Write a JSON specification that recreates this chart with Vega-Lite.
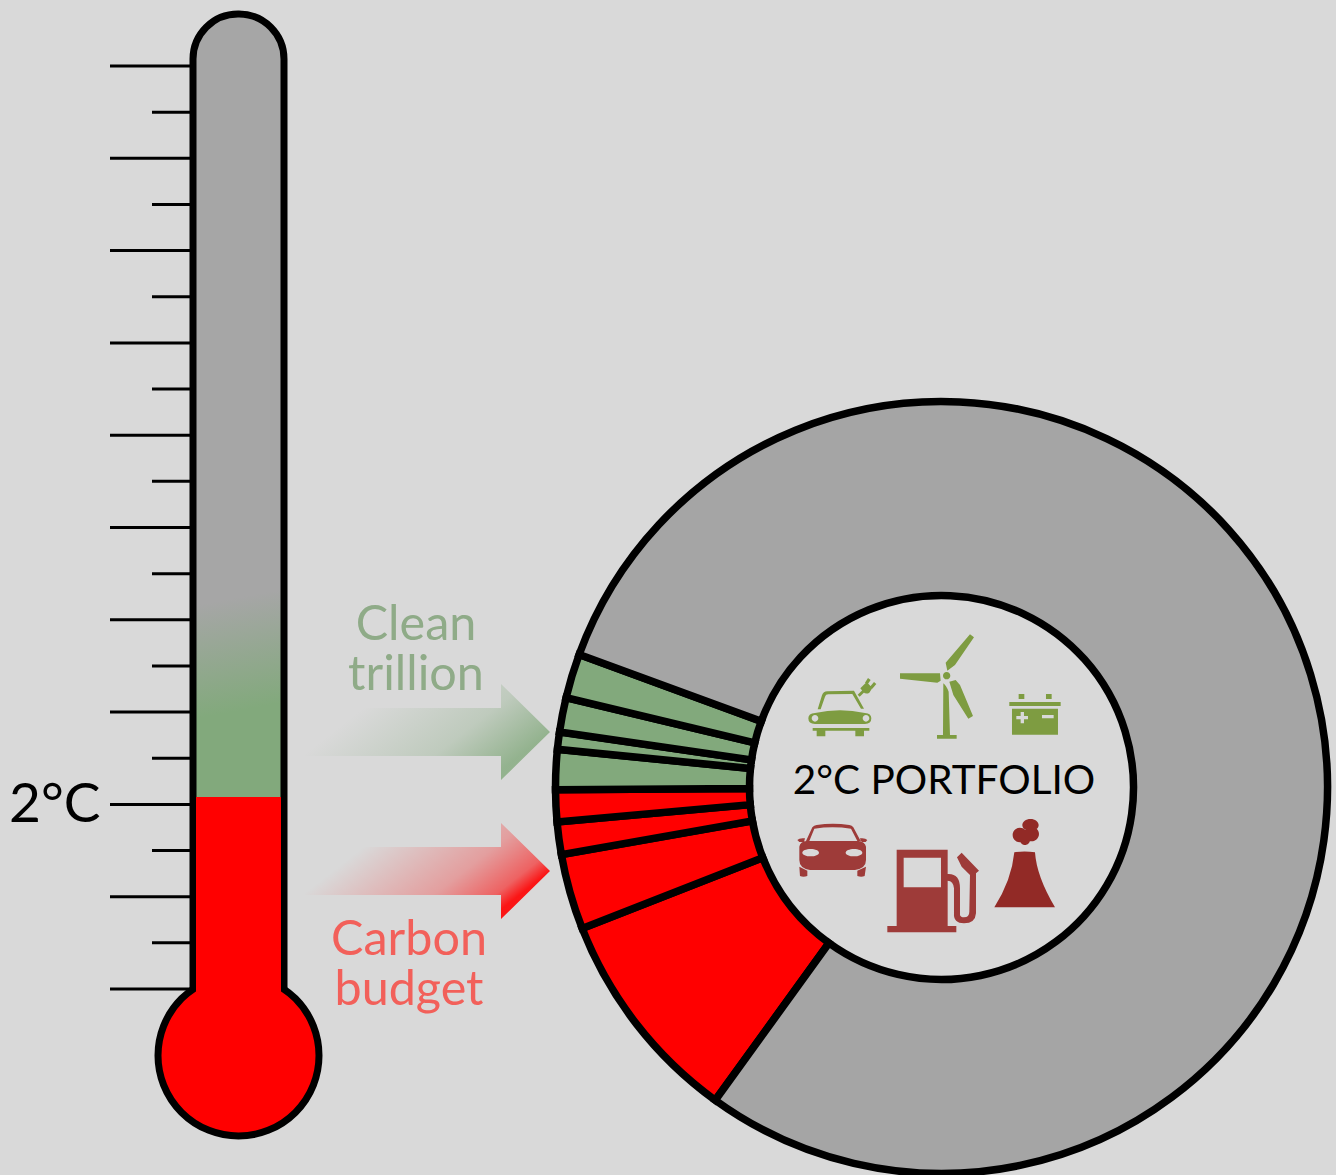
{
  "$schema": "https://vega.github.io/schema/vega-lite/v6.json",
  "width": 1336,
  "height": 1175,
  "padding": 0,
  "autosize": {"type": "none"},
  "background": "#d9d9d9",
  "config": {"view": {"stroke": null}, "axis": {"disable": true}},
  "datasets": {
    "ticks": [
      {"temp": 0, "kind": "major"}, {"temp": 0.5, "kind": "minor"}, {"temp": 1, "kind": "major"}, {"temp": 1.5, "kind": "minor"},
      {"temp": 2, "kind": "major"}, {"temp": 2.5, "kind": "minor"}, {"temp": 3, "kind": "major"}, {"temp": 3.5, "kind": "minor"},
      {"temp": 4, "kind": "major"}, {"temp": 4.5, "kind": "minor"}, {"temp": 5, "kind": "major"}, {"temp": 5.5, "kind": "minor"},
      {"temp": 6, "kind": "major"}, {"temp": 6.5, "kind": "minor"}, {"temp": 7, "kind": "major"}, {"temp": 7.5, "kind": "minor"},
      {"temp": 8, "kind": "major"}, {"temp": 8.5, "kind": "minor"}, {"temp": 9, "kind": "major"}, {"temp": 9.5, "kind": "minor"},
      {"temp": 10, "kind": "major"}
    ],
    "portfolio": [
      {"slice": "fossil 1", "sector": "carbon", "rank": 1, "share": 9.08},
      {"slice": "fossil 2", "sector": "carbon", "rank": 2, "share": 3.17},
      {"slice": "fossil 3", "sector": "carbon", "rank": 3, "share": 1.36},
      {"slice": "fossil 4", "sector": "carbon", "rank": 4, "share": 1.33},
      {"slice": "clean 1", "sector": "clean", "rank": 5, "share": 1.67},
      {"slice": "clean 2", "sector": "clean", "rank": 6, "share": 0.72},
      {"slice": "clean 3", "sector": "clean", "rank": 7, "share": 1.44},
      {"slice": "clean 4", "sector": "clean", "rank": 8, "share": 1.86},
      {"slice": "other", "sector": "other", "rank": 9, "share": 79.37}
    ],
    "cleanIcons": [{"icon": "electric car"}, {"icon": "wind turbine"}, {"icon": "battery"}],
    "fossilIcons": [{"icon": "car"}, {"icon": "fuel pump"}, {"icon": "power plant"}]
  },
  "resolve": {"scale": {"y": "independent", "shape": "independent", "color": "independent"}},
  "layer": [
    {
      "data": {"name": "ticks"},
      "transform": [{"filter": "datum.kind === 'major'"}],
      "mark": {"type": "rule", "stroke": "#000000", "strokeWidth": 3},
      "encoding": {
        "y": {"field": "temp", "type": "quantitative", "scale": {"domain": [-2.015, 10.715], "nice": false, "zero": false}},
        "x": {"datum": 110, "type": "quantitative", "scale": {"domain": [0, 1336], "nice": false, "zero": false}},
        "x2": {"datum": 190}
      }
    },
    {
      "data": {"name": "ticks"},
      "transform": [{"filter": "datum.kind === 'minor'"}],
      "mark": {"type": "rule", "stroke": "#000000", "strokeWidth": 3},
      "encoding": {
        "y": {"field": "temp", "type": "quantitative", "scale": {"domain": [-2.015, 10.715], "nice": false, "zero": false}},
        "x": {"datum": 152, "type": "quantitative", "scale": {"domain": [0, 1336], "nice": false, "zero": false}},
        "x2": {"datum": 190}
      }
    },
    {
      "data": {"values": [{"part": "tube"}]},
      "mark": {
        "type": "rect",
        "stroke": "#000000",
        "strokeWidth": 7,
        "cornerRadiusTopLeft": 45,
        "cornerRadiusTopRight": 45,
        "fill": {
          "x1": 0, "y1": 0, "x2": 0.017, "y2": 1,
          "gradient": "linear",
          "stops": [
            {"offset": 0, "color": "#a6a6a6"},
            {"offset": 0.6, "color": "#a6a6a6"},
            {"offset": 0.715, "color": "#82a97c"},
            {"offset": 1, "color": "#82a97c"}
          ]
        }
      },
      "encoding": {
        "x": {"datum": 193, "type": "quantitative", "scale": {"domain": [0, 1336], "nice": false, "zero": false}},
        "x2": {"datum": 284},
        "y": {"datum": 14, "type": "quantitative", "scale": {"domain": [1175, 0], "nice": false, "zero": false}},
        "y2": {"datum": 1000}
      }
    },
    {
      "data": {"values": [{"part": "bulb"}]},
      "mark": {"type": "point", "shape": "circle", "filled": true, "fill": "#ff0000", "stroke": "#000000", "strokeWidth": 7, "opacity": 1, "size": 25921},
      "encoding": {
        "x": {"datum": 238.5, "type": "quantitative", "scale": {"domain": [0, 1336], "nice": false, "zero": false}},
        "y": {"datum": 1055.5, "type": "quantitative", "scale": {"domain": [1175, 0], "nice": false, "zero": false}}
      }
    },
    {
      "data": {"values": [{"part": "mercury"}]},
      "mark": {"type": "rect", "fill": "#ff0000"},
      "encoding": {
        "x": {"datum": 196, "type": "quantitative", "scale": {"domain": [0, 1336], "nice": false, "zero": false}},
        "x2": {"datum": 281},
        "y": {"datum": 797, "type": "quantitative", "scale": {"domain": [1175, 0], "nice": false, "zero": false}},
        "y2": {"datum": 1012}
      }
    },
    {
      "data": {"name": "portfolio"},
      "mark": {"type": "arc", "outerRadius": 386, "innerRadius": 192, "stroke": "#000000", "strokeWidth": 7.5, "strokeJoin": "miter"},
      "encoding": {
        "theta": {"field": "share", "type": "quantitative", "stack": true, "scale": {"domain": [0, 100], "range": [3.768, 10.051]}},
        "order": {"field": "rank", "type": "quantitative"},
        "detail": {"field": "slice"},
        "color": {"field": "sector", "type": "nominal", "legend": null, "scale": {"domain": ["carbon", "clean", "other"], "range": ["#ff0000", "#82a97c", "#a5a5a5"]}},
        "x": {"datum": 941.5, "type": "quantitative", "scale": {"domain": [0, 1336], "nice": false, "zero": false}},
        "y": {"datum": 787.5, "type": "quantitative", "scale": {"domain": [1175, 0], "nice": false, "zero": false}}
      }
    },
    {
      "data": {"values": [{"arrow": "clean trillion"}]},
      "mark": {
        "type": "point", "filled": true, "opacity": 1, "size": 4, "strokeWidth": 0,
        "shape": "M-122.5,-24 L73.5,-24 L73.5,-48 L122.5,0 L73.5,48 L73.5,24 L-122.5,24 Z",
        "fill": {
          "x1": 0, "y1": 0, "x2": 1, "y2": 0.5,
          "gradient": "linear",
          "stops": [
            {"offset": 0.29, "color": "rgba(130,169,124,0)"},
            {"offset": 0.72, "color": "rgba(130,169,124,0.3)"},
            {"offset": 1, "color": "rgba(130,169,124,0.8)"}
          ]
        }
      },
      "encoding": {
        "x": {"datum": 427.5, "type": "quantitative", "scale": {"domain": [0, 1336], "nice": false, "zero": false}},
        "y": {"datum": 732, "type": "quantitative", "scale": {"domain": [1175, 0], "nice": false, "zero": false}}
      }
    },
    {
      "data": {"values": [{"arrow": "carbon budget"}]},
      "mark": {
        "type": "point", "filled": true, "opacity": 1, "size": 4, "strokeWidth": 0,
        "shape": "M-122.5,-24 L73.5,-24 L73.5,-48 L122.5,0 L73.5,48 L73.5,24 L-122.5,24 Z",
        "fill": {
          "x1": 0, "y1": 0, "x2": 1, "y2": 0.5,
          "gradient": "linear",
          "stops": [
            {"offset": 0.29, "color": "rgba(255,0,0,0)"},
            {"offset": 0.72, "color": "rgba(255,0,0,0.27)"},
            {"offset": 0.92, "color": "rgba(255,0,0,0.55)"},
            {"offset": 1, "color": "rgba(255,0,0,0.9)"}
          ]
        }
      },
      "encoding": {
        "x": {"datum": 427.5, "type": "quantitative", "scale": {"domain": [0, 1336], "nice": false, "zero": false}},
        "y": {"datum": 871, "type": "quantitative", "scale": {"domain": [1175, 0], "nice": false, "zero": false}}
      }
    },
    {
      "data": {"values": [{"label": "2°C"}]},
      "mark": {"type": "text", "font": "Lato", "fontSize": 55, "align": "left", "baseline": "alphabetic", "fill": "#000000"},
      "encoding": {
        "text": {"field": "label"},
        "x": {"datum": 9, "type": "quantitative", "scale": {"domain": [0, 1336], "nice": false, "zero": false}},
        "y": {"datum": 822, "type": "quantitative", "scale": {"domain": [1175, 0], "nice": false, "zero": false}}
      }
    },
    {
      "data": {"values": [{"label": "2°C PORTFOLIO"}]},
      "mark": {"type": "text", "font": "Lato", "fontSize": 40.5, "align": "center", "baseline": "alphabetic", "fill": "#000000"},
      "encoding": {
        "text": {"field": "label"},
        "x": {"datum": 944, "type": "quantitative", "scale": {"domain": [0, 1336], "nice": false, "zero": false}},
        "y": {"datum": 794, "type": "quantitative", "scale": {"domain": [1175, 0], "nice": false, "zero": false}}
      }
    },
    {
      "data": {"values": [{"label": "Clean\ntrillion"}]},
      "mark": {"type": "text", "font": "Lato", "fontSize": 48.5, "lineBreak": "\n", "lineHeight": 50, "align": "center", "baseline": "alphabetic", "fill": "#8fab88"},
      "encoding": {
        "text": {"field": "label"},
        "x": {"datum": 416, "type": "quantitative", "scale": {"domain": [0, 1336], "nice": false, "zero": false}},
        "y": {"datum": 640, "type": "quantitative", "scale": {"domain": [1175, 0], "nice": false, "zero": false}}
      }
    },
    {
      "data": {"values": [{"label": "Carbon\nbudget"}]},
      "mark": {"type": "text", "font": "Lato", "fontSize": 48.5, "lineBreak": "\n", "lineHeight": 50, "align": "center", "baseline": "alphabetic", "fill": "#f2605a"},
      "encoding": {
        "text": {"field": "label"},
        "x": {"datum": 409, "type": "quantitative", "scale": {"domain": [0, 1336], "nice": false, "zero": false}},
        "y": {"datum": 955, "type": "quantitative", "scale": {"domain": [1175, 0], "nice": false, "zero": false}}
      }
    },
    {
      "data": {"name": "cleanIcons"},
      "mark": {"type": "point", "filled": true, "opacity": 1, "size": 0.4444, "strokeWidth": 0, "fill": "#7e9c41"},
      "encoding": {
        "x": {"datum": 780, "type": "quantitative", "scale": {"domain": [0, 1336], "nice": false, "zero": false}},
        "y": {"datum": 620, "type": "quantitative", "scale": {"domain": [1175, 0], "nice": false, "zero": false}},
        "shape": {
          "field": "icon", "type": "nominal", "legend": null,
          "scale": {
            "domain": ["electric car", "wind turbine", "battery"],
            "range": [
              "M113,268 L126,226 Q130,214 142,214 L222,212 L252,266 L243,266 L217,222 L145,223 Q137,223 135,230 L122,268 Z M85,295 Q85,280 105,279 Q180,262 255,279 Q274,280 274,295 Q274,312 255,312 L105,312 Q85,312 85,295 Z M95,295 A10,10 0 1,0 115,295 A10,10 0 1,0 95,295 Z M248,295 A10,10 0 1,0 268,295 A10,10 0 1,0 248,295 Z M98,324 H268 V332 H98 Z M110,332 H136 V349 H110 Z M226,332 H252 V349 H226 Z M241,205 L260,186 L277,204 L268,218 Q258,224 250,216 Z M233,224 L250,208 L256,214 L239,230 Z M255,188 L264,174 L272,180 L263,193 Z M270,200 L282,186 L289,192 L277,206 Z",
              "M489,167 A11,11 0 1,1 511,167 A11,11 0 1,1 489,167 Z M497,128 L570,43 L582,52 L525,135 L502,152 Z M360,160 L480,160 L482,182 L472,188 L360,176 Z M508,185 L527,180 L540,195 L579,288 L565,296 L520,225 Z M490,190 Q498,195 506,215 L510,345 L530,345 L530,356 L471,356 L471,345 L489,345 Z",
              "M688,246 H842 V258 H688 Z M716,222 H733 V237 H716 Z M798,222 H815 V237 H798 Z M696,266 H834 V344 H696 Z M709,288 L709,298 L722,298 L722,310 L732,310 L732,298 L744,298 L744,288 L732,288 L732,276 L722,276 L722,288 Z M786,285 L786,295 L821,295 L821,285 Z"
            ]
          }
        }
      }
    },
    {
      "data": {"name": "fossilIcons"},
      "mark": {"type": "point", "filled": true, "opacity": 1, "size": 0.4444, "strokeWidth": 0},
      "encoding": {
        "x": {"datum": 780, "type": "quantitative", "scale": {"domain": [0, 1336], "nice": false, "zero": false}},
        "y": {"datum": 810, "type": "quantitative", "scale": {"domain": [1175, 0], "nice": false, "zero": false}},
        "color": {"field": "icon", "type": "nominal", "legend": null, "scale": {"domain": ["car", "fuel pump", "power plant"], "range": ["#9e3b39", "#9e3b39", "#922a26"]}},
        "shape": {
          "field": "icon", "type": "nominal", "legend": null,
          "scale": {
            "domain": ["car", "fuel pump", "power plant"],
            "range": [
              "M58,110 Q60,95 80,93 L235,93 Q255,95 258,110 L258,150 Q258,175 225,180 L90,180 Q58,175 58,150 Z M67,128 A25,11 0 1,0 117,128 A25,11 0 1,0 67,128 Z M197,128 A25,11 0 1,0 247,128 A25,11 0 1,0 197,128 Z M78,93 L97,52 Q102,46 110,45 Q158,38 208,45 Q216,46 220,52 L242,93 L232,93 L213,56 Q158,48 103,56 L88,93 Z M52,90 Q58,83 75,85 L72,96 L58,96 Z M262,90 Q256,83 240,85 L243,96 L257,96 Z M58,170 L82,182 L82,198 Q70,202 60,198 Z M258,170 L232,182 L232,198 Q244,202 254,198 Z",
              "M350,119 H503 V348 H529 V367 H322 V348 H350 Z M371,143 V232 H483 V143 Z M503,192 Q540,190 540,235 L540,315 Q542,322 552,322 Q568,322 568,305 L570,195 L545,170 L531,142 L545,128 L597,182 L588,190 L588,310 Q586,340 552,340 Q520,340 522,310 L522,235 Q520,212 503,212 Z",
              "M703,127 Q733,122 765,127 Q770,200 825,292 L643,292 Q695,210 703,127 Z M698,75 A22,22 0 1,1 742,75 A22,22 0 1,1 698,75 Z M727,45 A24,18 0 1,1 776,45 A24,18 0 1,1 727,45 Z M733,72 A22,22 0 1,1 777,72 A22,22 0 1,1 733,72 Z M720,90 A15,15 0 1,1 750,90 A15,15 0 1,1 720,90 Z"
            ]
          }
        }
      }
    }
  ]
}
